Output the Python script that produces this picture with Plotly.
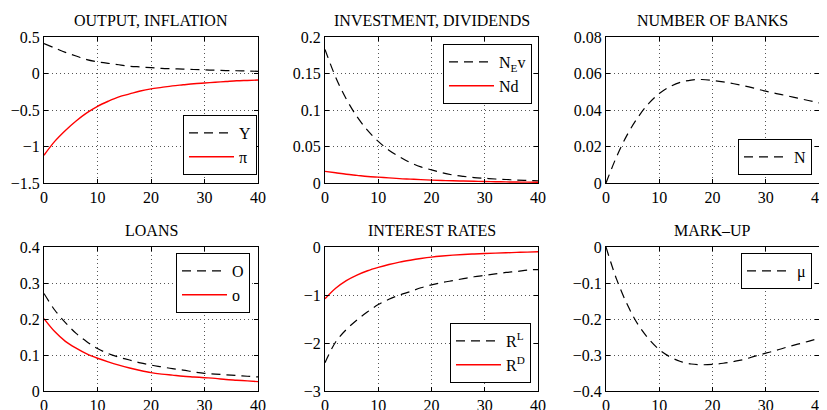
import plotly.graph_objects as go
from plotly.subplots import make_subplots

quarters = list(range(0, 41, 2))

# output, inflation
output_y = [0.41, 0.35, 0.29, 0.24, 0.19, 0.16, 0.14, 0.12, 0.10, 0.09, 0.08,
            0.07, 0.065, 0.06, 0.055, 0.05, 0.045, 0.04, 0.038, 0.035, 0.03]
inflation = [-1.12, -0.93, -0.78, -0.65, -0.54, -0.45, -0.38, -0.32, -0.28, -0.24, -0.21,
             -0.19, -0.17, -0.155, -0.14, -0.13, -0.12, -0.11, -0.10, -0.095, -0.09]

# investment, dividends
invest = [0.183, 0.145, 0.115, 0.091, 0.072, 0.057, 0.045, 0.036, 0.028, 0.022, 0.018,
          0.014, 0.011, 0.009, 0.0075, 0.0065, 0.0055, 0.0048, 0.004, 0.0035, 0.003]
divid = [0.016, 0.014, 0.012, 0.0105, 0.009, 0.008, 0.007, 0.006, 0.0053, 0.0046, 0.004,
         0.0035, 0.003, 0.0027, 0.0024, 0.002, 0.0018, 0.0015, 0.0013, 0.0012, 0.001]

# number of banks
banks = [0.0, 0.0145, 0.0265, 0.036, 0.0435, 0.049, 0.0528, 0.0552, 0.0564, 0.0567, 0.0562,
         0.0554, 0.0544, 0.0532, 0.0518, 0.0503, 0.049, 0.0478, 0.0465, 0.0452, 0.0439]

# loans
loans_O = [0.271, 0.225, 0.19, 0.16, 0.137, 0.118, 0.104, 0.094, 0.086, 0.078, 0.072,
           0.067, 0.062, 0.058, 0.053, 0.049, 0.047, 0.045, 0.043, 0.041, 0.039]
loans_o = [0.201, 0.165, 0.138, 0.119, 0.103, 0.091, 0.081, 0.072, 0.064, 0.057, 0.051,
           0.047, 0.044, 0.041, 0.039, 0.037, 0.035, 0.032, 0.030, 0.028, 0.026]

# interest rates
rate_L = [-2.41, -1.98, -1.72, -1.52, -1.35, -1.20, -1.09, -1.0, -0.93, -0.85, -0.79,
          -0.74, -0.70, -0.66, -0.62, -0.59, -0.56, -0.53, -0.51, -0.48, -0.47]
rate_D = [-1.08, -0.86, -0.70, -0.585, -0.495, -0.425, -0.365, -0.315, -0.275, -0.24, -0.21,
          -0.188, -0.17, -0.156, -0.145, -0.135, -0.127, -0.12, -0.113, -0.106, -0.10]

# mark-up
markup = [0.0, -0.09, -0.16, -0.215, -0.255, -0.285, -0.305, -0.318, -0.325, -0.327, -0.326,
          -0.323, -0.318, -0.312, -0.303, -0.295, -0.287, -0.278, -0.27, -0.262, -0.254]

titles = ["OUTPUT, INFLATION", "INVESTMENT, DIVIDENDS", "NUMBER OF BANKS",
          "LOANS", "INTEREST RATES", "MARK\u2013UP"]

W, H = 827, 410
OFF = 8  # the page body adds an 8px margin around the figure
FONT = "Liberation Serif, Times New Roman, serif"
DASH = "9px,6px"

fig = make_subplots(rows=2, cols=3)

def dashed(x, y, name, leg, row, col):
    fig.add_trace(go.Scatter(x=x, y=y, name=name, mode="lines", line_shape="spline",
                             line=dict(color="black", width=1.2, dash=DASH), legend=leg),
                  row=row, col=col)

def solid(x, y, name, leg, row, col):
    fig.add_trace(go.Scatter(x=x, y=y, name=name, mode="lines", line_shape="spline",
                             line=dict(color="red", width=1.4), legend=leg),
                  row=row, col=col)

dashed(quarters, output_y, "Y", "legend", 1, 1)
solid(quarters, inflation, "\u03c0", "legend", 1, 1)
dashed(quarters, invest, "N<sub>E</sub>v", "legend2", 1, 2)
solid(quarters, divid, "Nd", "legend2", 1, 2)
dashed(quarters, banks, "N", "legend3", 1, 3)
dashed(quarters, loans_O, "O", "legend4", 2, 1)
solid(quarters, loans_o, "o", "legend4", 2, 1)
dashed(quarters, rate_L, "R<sup>L</sup>", "legend5", 2, 2)
solid(quarters, rate_D, "R<sup>D</sup>", "legend5", 2, 2)
dashed(quarters, markup, "\u03bc", "legend6", 2, 3)

def px_x(v):
    return (v - OFF) / W

def px_y(v):
    return 1 - (v - OFF) / H

# plot areas in screen pixels (left, right) and (top, bottom)
cols_px = [(44, 258), (325, 538), (606, 819)]
rows_px = [(37, 183), (247, 391)]
title_px = [20, 230]
yranges = [[-1.5, 0.5], [0, 0.2], [0, 0.08], [0, 0.4], [-3, 0], [-0.4, 0]]
ydticks = [0.5, 0.05, 0.02, 0.1, 1, 0.1]

axis_style = dict(showline=True, linecolor="black", linewidth=1, mirror="allticks",
                  ticks="inside", ticklen=4, tickcolor="black", showgrid=True,
                  gridcolor="#555", griddash="1px,3px", gridwidth=1, zeroline=False,
                  automargin=False,
                  tickfont=dict(family=FONT, size=16, color="black"))

for i in range(6):
    r, c = divmod(i, 3)
    l, rr = cols_px[c]
    t, b = rows_px[r]
    fig.update_xaxes(domain=[px_x(l), px_x(rr)], range=[0, 40], dtick=10, tick0=0,
                     row=r + 1, col=c + 1, **axis_style)
    fig.update_yaxes(domain=[px_y(b), px_y(t)], range=yranges[i], dtick=ydticks[i],
                     row=r + 1, col=c + 1, **axis_style)
    fig.add_annotation(text=titles[i], x=px_x((l + rr) / 2), y=px_y(title_px[r]),
                       xref="paper", yref="paper", showarrow=False,
                       xanchor="center", yanchor="middle",
                       font=dict(family=FONT, size=16, color="black"))

# legend boxes: (right px, top or bottom px, anchor)
legend_pos = [(257, 175, "bottom"), (532, 44, "top"), (812, 175, "bottom"),
              (250, 253, "top"), (531, 383, "bottom"), (812, 253, "top")]
names = ["legend", "legend2", "legend3", "legend4", "legend5", "legend6"]
leg_layout = {}
for name, (x, y, anc) in zip(names, legend_pos):
    leg_layout[name] = dict(x=px_x(x), y=px_y(y), xanchor="right", yanchor=anc,
                            bgcolor="white", bordercolor="black", borderwidth=1,
                            font=dict(family=FONT, size=16, color="black"),
                            itemwidth=45, tracegroupgap=0)

fig.update_layout(width=W, height=H, margin=dict(l=0, r=0, t=0, b=0),
                  paper_bgcolor="white", plot_bgcolor="white", showlegend=True,
                  font=dict(family=FONT, size=16, color="black"), **leg_layout)

fig.write_html("out.html")
